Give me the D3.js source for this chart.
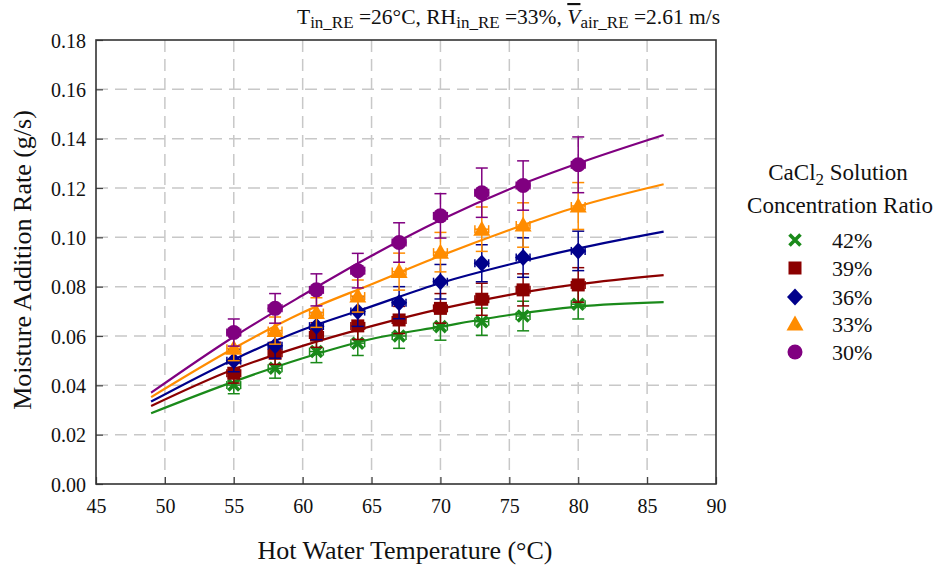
<!DOCTYPE html>
<html><head><meta charset="utf-8">
<script src="https://cdn.jsdelivr.net/npm/d3@7"></script>
<style>
html,body{margin:0;padding:0;background:#fff;}
svg text{font-family:"Liberation Serif","DejaVu Serif",serif !important;}
</style></head>
<body><svg id="c" width="936" height="567"></svg>
<script>
// ---- data ----
const temps = [55, 58, 61, 64, 67, 70, 73, 76, 80];
const seriesNames = ["42%", "39%", "36%", "33%", "30%"];
const v42 = [0.0401, 0.0469, 0.0537, 0.0571, 0.0600, 0.0638, 0.0658, 0.0681, 0.0729];
const v39 = [0.0449, 0.0530, 0.0604, 0.0641, 0.0665, 0.0712, 0.0749, 0.0787, 0.0807];
const v36 = [0.0500, 0.0560, 0.0640, 0.0699, 0.0735, 0.0820, 0.0895, 0.0918, 0.0945];
const v33 = [0.0550, 0.0622, 0.0695, 0.0762, 0.0861, 0.0940, 0.1033, 0.1050, 0.1127];
const v30 = [0.0614, 0.0712, 0.0787, 0.0865, 0.0979, 0.1087, 0.1181, 0.1210, 0.1294];
const e42 = [0.0035, 0.0040, 0.0045, 0.0050, 0.0050, 0.0055, 0.0055, 0.0060, 0.0060];
const e39 = [0.0040, 0.0045, 0.0050, 0.0055, 0.0055, 0.0060, 0.0065, 0.0065, 0.0070];
const e36 = [0.0045, 0.0050, 0.0055, 0.0060, 0.0065, 0.0070, 0.0075, 0.0080, 0.0080];
const e33 = [0.0050, 0.0055, 0.0060, 0.0065, 0.0075, 0.0080, 0.0090, 0.0090, 0.0095];
const e30 = [0.0055, 0.0060, 0.0065, 0.0070, 0.0080, 0.0090, 0.0100, 0.0100, 0.0113];
const tempErr = 0.5;
// fitted curves
const fitT = [49, 55, 60, 65, 70, 75, 80, 86.2];
const f42 = [0.0287, 0.0415, 0.0510, 0.0588, 0.0638, 0.0685, 0.0719, 0.0737];
const f39 = [0.0316, 0.0465, 0.0560, 0.0640, 0.0710, 0.0767, 0.0810, 0.0847];
const f36 = [0.0334, 0.0505, 0.0625, 0.0720, 0.0815, 0.0890, 0.0955, 0.1023];
const f33 = [0.0352, 0.0550, 0.0695, 0.0810, 0.0925, 0.1030, 0.1125, 0.1215];
const f30 = [0.0370, 0.0597, 0.0765, 0.0925, 0.1070, 0.1195, 0.1300, 0.1415];
const xTicks = [45, 50, 55, 60, 65, 70, 75, 80, 85, 90];
const yTicks = [0, 0.02, 0.04, 0.06, 0.08, 0.10, 0.12, 0.14, 0.16, 0.18];

const colors = ["#1a8a1a", "#8b0000", "#00008b", "#ff8c00", "#800080"];
const symbols = ["x", "square", "diamond", "triangle", "circle"];
const values = [v42, v39, v36, v33, v30];
const errs = [e42, e39, e36, e33, e30];
const fits = [f42, f39, f36, f33, f30];

const FONT = '"Liberation Serif", "DejaVu Serif", serif';
const svg = d3.select("#c").attr("font-family", FONT);
const x = d3.scaleLinear().domain([45, 90]).range([96, 716]);
const y = d3.scaleLinear().domain([0, 0.18]).range([484, 40]);

// grid
const grid = svg.append("g").attr("stroke", "#c8c8c8").attr("stroke-width", 1.5).attr("stroke-dasharray", "12,7");
grid.selectAll(".gx").data(xTicks.slice(1, -1)).join("line")
  .attr("x1", d => x(d)).attr("x2", d => x(d)).attr("y1", y(0.18)).attr("y2", y(0));
grid.selectAll(".gy").data(yTicks.slice(1, -1)).join("line")
  .attr("y1", d => y(d)).attr("y2", d => y(d)).attr("x1", x(45)).attr("x2", x(90));

// axes
const xAxis = d3.axisBottom(x).tickValues(xTicks).tickSize(-7).tickPadding(15).tickFormat(d3.format("d"));
const yAxis = d3.axisLeft(y).tickValues(yTicks).tickSize(-7).tickPadding(10).tickFormat(d3.format(".2f"));
const gx = svg.append("g").attr("transform", `translate(0,${y(0)})`).call(xAxis);
const gy = svg.append("g").attr("transform", `translate(${x(45)},0)`).call(yAxis);
[gx, gy].forEach(g => {
  g.attr("font-family", FONT).attr("font-size", 20);
  g.select(".domain").remove();
  g.selectAll(".tick line").attr("stroke", "#444").attr("stroke-width", 1.2);
  g.selectAll(".tick text").style("font-family", FONT).attr("font-size", 20).attr("fill", "#111");
});
gy.selectAll(".tick text").attr("dy", "0.35em");
svg.append("rect").attr("x", x(45)).attr("y", y(0.18)).attr("width", x(90) - x(45)).attr("height", y(0) - y(0.18))
  .attr("fill", "none").attr("stroke", "#333").attr("stroke-width", 1.6);

// axis titles
svg.append("text").attr("x", 405).attr("y", 559).attr("text-anchor", "middle")
  .attr("font-size", 26).attr("fill", "#111").text("Hot Water Temperature (°C)");
svg.append("text").attr("transform", `translate(31,260) rotate(-90)`).attr("text-anchor", "middle")
  .attr("font-size", 26).attr("fill", "#111").text("Moisture Addition Rate (g/s)");

// title
const t = svg.append("text").attr("x", 297).attr("y", 24).attr("font-size", 21.5).attr("fill", "#111");
t.append("tspan").text("T");
t.append("tspan").attr("font-size", 17).attr("dy", 4).text("in_RE");
t.append("tspan").attr("dy", -4).text(" =26°C, RH");
t.append("tspan").attr("font-size", 17).attr("dy", 4).text("in_RE");
t.append("tspan").attr("dy", -4).text(" =33%, ");
t.append("tspan").attr("font-style", "italic").attr("text-decoration", "overline").text("V");
t.append("tspan").attr("font-size", 17).attr("dy", 4).text("air_RE");
t.append("tspan").attr("dy", -4).text(" =2.61 m/s");

// marker drawing
function drawMarker(g, type, color, cx, cy) {
  if (type === "x") {
    const s = 5.5;
    g.append("path").attr("d", `M${cx - s},${cy - s}L${cx + s},${cy + s}M${cx - s},${cy + s}L${cx + s},${cy - s}`)
      .attr("stroke", color).attr("stroke-width", 3.6).attr("fill", "none");
  } else if (type === "square") {
    g.append("rect").attr("x", cx - 6.5).attr("y", cy - 6.5).attr("width", 13).attr("height", 13).attr("fill", color);
  } else if (type === "diamond") {
    g.append("path").attr("d", `M${cx},${cy - 8.5}L${cx + 8},${cy}L${cx},${cy + 8.5}L${cx - 8},${cy}Z`).attr("fill", color);
  } else if (type === "triangle") {
    g.append("path").attr("d", `M${cx},${cy - 8.5}L${cx + 8.5},${cy + 6.5}L${cx - 8.5},${cy + 6.5}Z`).attr("fill", color);
  } else {
    g.append("circle").attr("cx", cx).attr("cy", cy).attr("r", 7.5).attr("fill", color);
  }
}

const line = d3.line().x(d => x(d[0])).y(d => y(d[1])).curve(d3.curveMonotoneX);

values.forEach((vals, i) => {
  const col = colors[i];
  const g = svg.append("g");
  g.append("path").datum(fitT.map((tt, j) => [tt, fits[i][j]])).attr("d", line)
    .attr("fill", "none").attr("stroke", col).attr("stroke-width", 2.2);
  vals.forEach((v, j) => {
    const cx = x(temps[j]), cy = y(v);
    const e = errs[i][j];
    const eb = g.append("g").attr("stroke", col).attr("stroke-width", 1.5);
    eb.append("line").attr("x1", cx).attr("x2", cx).attr("y1", y(v - e)).attr("y2", y(v + e));
    eb.append("line").attr("x1", cx - 6).attr("x2", cx + 6).attr("y1", y(v - e)).attr("y2", y(v - e));
    eb.append("line").attr("x1", cx - 6).attr("x2", cx + 6).attr("y1", y(v + e)).attr("y2", y(v + e));
    const xl = x(temps[j] - tempErr), xr = x(temps[j] + tempErr);
    eb.append("line").attr("x1", xl).attr("x2", xr).attr("y1", cy).attr("y2", cy);
    eb.append("line").attr("x1", xl).attr("x2", xl).attr("y1", cy - 4).attr("y2", cy + 4);
    eb.append("line").attr("x1", xr).attr("x2", xr).attr("y1", cy - 4).attr("y2", cy + 4);
    drawMarker(g, symbols[i], col, cx, cy);
  });
});

// legend
const lg = svg.append("g");
const lt = lg.append("text").attr("x", 838).attr("y", 180).attr("text-anchor", "middle").attr("font-size", 23).attr("fill", "#111");
lt.append("tspan").text("CaCl");
lt.append("tspan").attr("font-size", 17).attr("dy", 5).text("2");
lt.append("tspan").attr("dy", -5).text(" Solution");
lg.append("text").attr("x", 840).attr("y", 213).attr("text-anchor", "middle").attr("font-size", 23).attr("fill", "#111")
  .text("Concentration Ratio");
const legY = [240, 268, 297, 324, 352];
seriesNames.forEach((n, i) => {
  drawMarker(lg, symbols[i], colors[i], 795, legY[i]);
  lg.append("text").attr("x", 832).attr("y", legY[i]).attr("dy", "0.35em").attr("font-size", 22).attr("fill", "#111").text(n);
});
</script></body></html>
